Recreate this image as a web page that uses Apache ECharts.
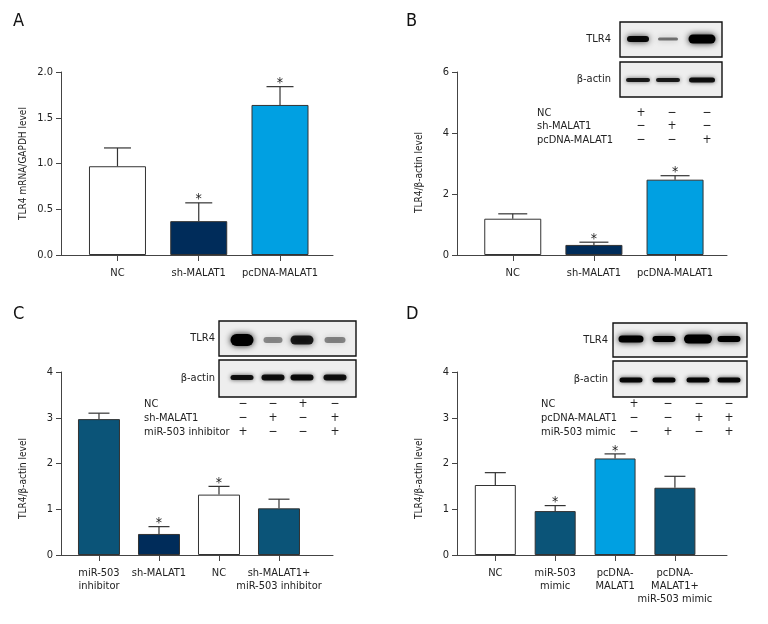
<!DOCTYPE html>
<html>
<head>
<meta charset="utf-8">
<script src="https://cdn.jsdelivr.net/npm/echarts@6/dist/echarts.min.js"></script>
<style>html,body{margin:0;padding:0;background:#fff}#c{width:768px;height:624px}</style>
</head>
<body>
<div id="c"></div>
<script>
// ---------- DATA ----------
const catsA = ['NC', 'sh-MALAT1', 'pcDNA-MALAT1'];
const meanA = [0.97, 0.37, 1.64];
const errA  = [0.20, 0.20, 0.20];
const sigA  = [0, 1, 1];

const catsB = ['NC', 'sh-MALAT1', 'pcDNA-MALAT1'];
const meanB = [1.19, 0.33, 2.47];
const errB  = [0.16, 0.09, 0.13];
const sigB  = [0, 1, 1];

const catsC = ['miR-503\ninhibitor', 'sh-MALAT1', 'NC', 'sh-MALAT1+\nmiR-503 inhibitor'];
const meanC = [2.97, 0.46, 1.32, 1.02];
const errC  = [0.13, 0.16, 0.18, 0.20];
const sigC  = [0, 1, 1, 0];

const catsD = ['NC', 'miR-503\nmimic', 'pcDNA-\nMALAT1', 'pcDNA-\nMALAT1+\nmiR-503 mimic'];
const meanD = [1.53, 0.96, 2.11, 1.47];
const errD  = [0.27, 0.12, 0.10, 0.25];
const sigD  = [0, 1, 1, 0];

const ticksA = [0, 0.5, 1.0, 1.5, 2.0];
const ticksB = [0, 2, 4, 6];
const ticksC = [0, 1, 2, 3, 4];
const ticksD = [0, 1, 2, 3, 4];

// treatment tables (+/-)
const rowsB = ['NC', 'sh-MALAT1', 'pcDNA-MALAT1'];
const signsB = [['+','−','−'], ['−','+','−'], ['−','−','+']];
const rowsC = ['NC', 'sh-MALAT1', 'miR-503 inhibitor'];
const signsC = [['−','−','+','−'], ['−','+','−','+'], ['+','−','−','+']];
const rowsD = ['NC', 'pcDNA-MALAT1', 'miR-503 mimic'];
const signsD = [['+','−','−','−'], ['−','−','+','+'], ['−','+','−','+']];

// ---------- STYLE ----------
const FONT = "'DejaVu Sans Condensed','Liberation Sans Narrow',sans-serif";
const WHITE = '#ffffff', NAVY = '#002c5a', TEAL = '#0b5478', BLUE = '#00a0e2';
const colorsA = [WHITE, NAVY, BLUE];
const colorsB = [WHITE, NAVY, BLUE];
const colorsC = [TEAL, NAVY, WHITE, TEAL];
const colorsD = [WHITE, TEAL, BLUE, TEAL];

const panels = [
  {cats: catsA, mean: meanA, err: errA, sig: sigA, colors: colorsA, ticks: ticksA, dec: 1,
   name: 'TLR4 mRNA/GAPDH level', namePad: 0,
   grid: {left: 61, top: 72, width: 272, height: 183}, xr: [-0.695, 2.652], barW: 57, capW: 27},
  {cats: catsB, mean: meanB, err: errB, sig: sigB, colors: colorsB, ticks: ticksB, dec: 0,
   name: 'TLR4/β-actin level', namePad: 18,
   grid: {left: 457, top: 72, width: 270, height: 183}, xr: [-0.687, 2.64], barW: 57, capW: 29},
  {cats: catsC, mean: meanC, err: errC, sig: sigC, colors: colorsC, ticks: ticksC, dec: 0,
   name: 'TLR4/β-actin level', namePad: 30,
   grid: {left: 61, top: 372, width: 272, height: 183}, xr: [-0.633, 3.9], barW: 42, capW: 21},
  {cats: catsD, mean: meanD, err: errD, sig: sigD, colors: colorsD, ticks: ticksD, dec: 0,
   name: 'TLR4/β-actin level', namePad: 30,
   grid: {left: 457, top: 372, width: 270, height: 183}, xr: [-0.64, 3.87], barW: 41, capW: 21}
];

const AX = '#444', TXT = '#222';
const grids = [], xAxes = [], yAxes = [], series = [];
panels.forEach((p, k) => {
  grids.push(p.grid);
  const idx = p.cats.map((_, i) => i);
  xAxes.push({
    type: 'value', gridIndex: k, min: p.xr[0], max: p.xr[1],
    splitLine: {show: false},
    axisLine: {show: true, onZero: false, lineStyle: {color: AX, width: 1}},
    axisTick: {show: true, customValues: idx, length: 6, lineStyle: {color: AX}},
    axisLabel: {customValues: idx, formatter: v => p.cats[Math.round(v)], margin: 12,
      showMinLabel: true, showMaxLabel: true, hideOverlap: false,
      fontFamily: FONT, fontSize: 11, color: TXT, lineHeight: 13}
  });
  const tmax = p.ticks[p.ticks.length - 1];
  yAxes.push({
    type: 'value', gridIndex: k, min: 0, max: tmax, interval: p.ticks[1] - p.ticks[0],
    splitLine: {show: false},
    axisLine: {show: true, onZero: false, lineStyle: {color: AX, width: 1}},
    axisTick: {show: true, length: 5, lineStyle: {color: AX}},
    axisLabel: {formatter: v => v.toFixed(p.dec), margin: 8, fontFamily: FONT, fontSize: 11, color: TXT},
    name: p.name, nameLocation: 'middle', nameGap: 33,
    nameTextStyle: {fontFamily: FONT, fontSize: 10, color: TXT, padding: [0, p.namePad, 0, 0]}
  });
  series.push({
    type: 'bar', xAxisIndex: k, yAxisIndex: k, barWidth: p.barW,
    data: p.mean.map((v, i) => ({value: [i, v], itemStyle: {color: p.colors[i]}})),
    itemStyle: {borderColor: '#333', borderWidth: 1}, z: 2, silent: true
  });
  series.push({
    type: 'custom', xAxisIndex: k, yAxisIndex: k, z: 3, silent: true,
    encode: {x: 0, y: 1},
    data: p.mean.map((v, i) => [i, v, p.err[i], p.sig[i]]),
    renderItem: (params, api) => {
      const x = api.value(0), m = api.value(1), e = api.value(2), s = api.value(3);
      const base = api.coord([x, m]), top = api.coord([x, m + e]);
      const c = p.capW / 2;
      const ch = [
        {type: 'line', shape: {x1: top[0], y1: base[1], x2: top[0], y2: top[1]}, style: {stroke: '#333', lineWidth: 1.2}},
        {type: 'line', shape: {x1: top[0] - c, y1: top[1], x2: top[0] + c, y2: top[1]}, style: {stroke: '#333', lineWidth: 1.2}}
      ];
      if (s) ch.push({type: 'text', style: {text: '*', x: top[0], y: top[1] - 3, align: 'center', verticalAlign: 'middle',
        font: '14px ' + FONT, fill: '#222'}});
      return {type: 'group', children: ch};
    }
  });
});

// ---------- DECORATION: panel letters, blots, treatment tables ----------
const g = [];
[['A', 13, 21], ['B', 406, 21], ['C', 13, 314], ['D', 406, 314]].forEach(([t, x, y]) => {
  g.push({type: 'text', style: {text: t, x: x, y: y, font: '18px ' + FONT, fill: '#111', verticalAlign: 'middle'}});
});

function blot(cfg) {
  [cfg.y1, cfg.y2].forEach(yy => {
    g.push({type: 'rect', shape: {x: cfg.x0, y: yy[0], width: cfg.x1 - cfg.x0, height: yy[1] - yy[0]},
      style: {fill: '#eeeeee', stroke: '#111', lineWidth: 1.4}, z: 1});
  });
  g.push({type: 'text', style: {text: 'TLR4', x: cfg.lx, y: (cfg.y1[0] + cfg.y1[1]) / 2, align: 'right', verticalAlign: 'middle', font: '11px ' + FONT, fill: TXT}});
  g.push({type: 'text', style: {text: 'β-actin', x: cfg.lx, y: (cfg.y2[0] + cfg.y2[1]) / 2, align: 'right', verticalAlign: 'middle', font: '11px ' + FONT, fill: TXT}});
  cfg.lanes.forEach((lx, i) => {
    const b = cfg.tlr[i];
    g.push({type: 'rect', shape: {x: lx - b[0] / 2, y: cfg.ty - b[1] / 2, width: b[0], height: b[1], r: b[1] / 2},
      style: {fill: 'rgba(0,0,0,' + b[2] + ')', shadowBlur: 6, shadowColor: 'rgba(0,0,0,' + (b[2] * 0.9) + ')'}, z: 2});
    const a = cfg.act[i];
    g.push({type: 'rect', shape: {x: lx - a[0] / 2, y: cfg.ay - a[1] / 2, width: a[0], height: a[1], r: a[1] / 2},
      style: {fill: 'rgba(0,0,0,' + a[2] + ')', shadowBlur: 4, shadowColor: 'rgba(0,0,0,' + (a[2] * 0.8) + ')'}, z: 2});
  });
  cfg.rows.forEach((r, j) => {
    g.push({type: 'text', style: {text: r, x: cfg.tx, y: cfg.ry[j], verticalAlign: 'middle', font: '11px ' + FONT, fill: TXT}});
    cfg.signs[j].forEach((s, i) => {
      g.push({type: 'text', style: {text: s, x: cfg.sx[i], y: cfg.ry[j], align: 'center', verticalAlign: 'middle', font: '12px ' + FONT, fill: TXT}});
    });
  });
}

blot({x0: 620, x1: 722, y1: [22, 57], y2: [62, 97], lx: 611, ty: 39, ay: 80,
  lanes: [638, 668, 702],
  tlr: [[22, 6, 0.95], [20, 3, 0.5], [27, 9, 1]],
  act: [[24, 4, 0.85], [24, 4, 0.85], [26, 5, 0.9]],
  rows: rowsB, signs: signsB, tx: 537, ry: [113, 126, 140], sx: [641, 672, 707]});

blot({x0: 219, x1: 356, y1: [321, 356], y2: [360, 397], lx: 215, ty: 340, ay: 377.5,
  lanes: [242, 273, 302, 335],
  tlr: [[23, 12, 1], [19, 6, 0.4], [23, 9, 0.85], [21, 6, 0.42]],
  act: [[23, 5, 0.9], [23, 6, 0.9], [23, 6, 0.92], [23, 6, 0.9]],
  rows: rowsC, signs: signsC, tx: 144, ry: [404, 418, 432], sx: [243, 273, 303, 335]});

blot({x0: 613, x1: 747, y1: [323, 357], y2: [361, 397], lx: 608, ty: 339, ay: 380,
  lanes: [631, 664, 698, 729],
  tlr: [[25, 7, 1], [23, 6, 1], [28, 9, 1], [23, 6, 1]],
  act: [[23, 5, 0.95], [23, 5, 0.95], [23, 5, 0.95], [23, 5, 0.95]],
  rows: rowsD, signs: signsD, tx: 541, ry: [404, 418, 432], sx: [634, 668, 699, 729]});

const chart = echarts.init(document.getElementById('c'), null, {renderer: 'canvas'});
chart.setOption({
  animation: false,
  backgroundColor: '#fff',
  grid: grids, xAxis: xAxes, yAxis: yAxes, series: series,
  graphic: g
});
</script>
</body>
</html>
